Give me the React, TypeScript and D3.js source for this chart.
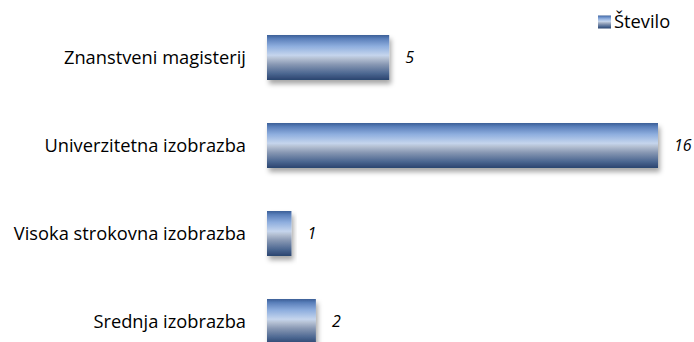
import React, { useEffect, useRef } from "react";
import * as d3 from "d3";

const categories = ["Znanstveni magisterij", "Univerzitetna izobrazba", "Visoka strokovna izobrazba", "Srednja izobrazba"];
const values = [5, 16, 1, 2];
const seriesName = "Število";

const W = 694;
const H = 342;

export default function App() {
  const ref = useRef<SVGSVGElement | null>(null);
  useEffect(() => {
    document.body.style.margin = "0";
    const svg = d3.select(ref.current);
    svg.selectAll("*").remove();
    const defs = svg.append("defs");
    const grad = defs.append("linearGradient").attr("id", "barGrad").attr("x1", 0).attr("y1", 0).attr("x2", 0).attr("y2", 1);
    const stops: [number, string][] = [
      [0, "#3a5e96"], [0.08, "#5a7fba"], [0.25, "#8eaede"], [0.45, "#c5d5ed"],
      [0.52, "#b5c1d4"], [0.66, "#8696b2"], [0.85, "#4d6892"], [1, "#2a446f"],
    ];
    stops.forEach(([o, c]) => grad.append("stop").attr("offset", o).attr("stop-color", c));
    const f = defs.append("filter").attr("id", "shadow").attr("x", "-10%").attr("y", "-20%").attr("width", "130%").attr("height", "160%");
    f.append("feDropShadow").attr("dx", 2).attr("dy", 4).attr("stdDeviation", 2.5).attr("flood-color", "#000").attr("flood-opacity", 0.35);

    const x = d3.scaleLinear().domain([0, 16]).range([267, 658]);
    const y = d3.scaleBand<string>().domain(categories).range([13.5, 365.5]).paddingInner(0.489).paddingOuter(0.2445);
    const font = "Open Sans, sans-serif";

    const g = svg.append("g");
    categories.forEach((c, i) => {
      const y0 = y(c)!;
      const bw = y.bandwidth();
      g.append("rect").attr("x", x(0)).attr("y", y0).attr("width", x(values[i]) - x(0)).attr("height", bw)
        .attr("fill", "url(#barGrad)").attr("filter", "url(#shadow)");
      g.append("text").attr("x", x(values[i]) + 16).attr("y", y0 + bw / 2).attr("dy", "0.35em")
        .attr("font-family", font).attr("font-size", 16).attr("font-style", "italic").attr("fill", "#000").text(String(values[i]));
      g.append("text").attr("x", 246).attr("y", y0 + bw / 2).attr("dy", "0.35em").attr("text-anchor", "end")
        .attr("font-family", font).attr("font-size", 18.3).attr("fill", "#000").text(c);
    });

    const lg = svg.append("g");
    lg.append("rect").attr("x", 598).attr("y", 15.5).attr("width", 13).attr("height", 13).attr("fill", "url(#barGrad)");
    lg.append("text").attr("x", 614).attr("y", 28).attr("font-family", font).attr("font-size", 18.3).attr("fill", "#000").text(seriesName);
  }, []);
  return <svg ref={ref} width={W} height={H} style={{ display: "block", background: "#fff" }} />;
}
